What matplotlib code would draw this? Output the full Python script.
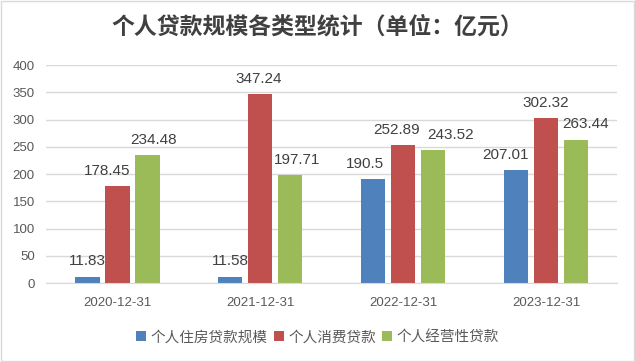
from matplotlib import pyplot as plt
import numpy as np

plt.rcParams['font.family'] = ['Noto Sans CJK SC', 'DejaVu Sans']

dates = ["2020-12-31", "2021-12-31", "2022-12-31", "2023-12-31"]
housing = [11.83, 11.58, 190.5, 207.01]
consumer = [178.45, 347.24, 252.89, 302.32]
business = [234.48, 197.71, 243.52, 263.44]
series_names = ["个人住房贷款规模", "个人消费贷款", "个人经营性贷款"]
colors = ["#4F81BD", "#C0504D", "#9BBB59"]

# horizontal nudges (pixels) that keep the data labels apart, as in the source
label_nudge = [[0, 0, -8, -11], [-10, -2, -7, 0], [6, 7, 17, 10]]

fig = plt.figure(figsize=(6.35, 3.62), dpi=100)
ax = fig.add_axes([0.0724, 0.218, 0.9, 0.602])

x = np.arange(len(dates))
offset = 0.21
width = 0.17
for i, (vals, name) in enumerate(zip([housing, consumer, business], series_names)):
    pos = x + (i - 1) * offset
    bars = ax.bar(pos, vals, width, color=colors[i], label=name, zorder=2)
    for j, (b, v) in enumerate(zip(bars, vals)):
        ax.annotate(f"{v:g}", (b.get_x() + b.get_width() / 2, v),
                    xytext=(label_nudge[i][j] * 0.72, 6), textcoords="offset points",
                    ha="center", va="bottom", fontsize=11, color="#404040",
                    family="Liberation Sans")

ax.set_xlim(-0.5, len(dates) - 0.5)
ax.set_ylim(0, 400)
ax.set_yticks(np.arange(0, 401, 50))
ax.set_xticks(x)
ax.set_xticklabels(dates)
ax.grid(axis="y", color="#d9d9d9", linewidth=1, zorder=0)
for side in ["top", "right", "left"]:
    ax.spines[side].set_visible(False)
ax.spines["bottom"].set_color("#d9d9d9")
ax.tick_params(length=0, labelsize=9.5, colors="#595959", pad=8)
ax.tick_params(axis="x", pad=10)
for lbl in ax.get_xticklabels() + ax.get_yticklabels():
    lbl.set_family("Liberation Sans")

fig.text(0.5, 0.925, "个人贷款规模各类型统计（单位：亿元）", ha="center", va="center",
         fontsize=16.5, fontweight="bold", color="#404040")

fig.legend(loc="center", bbox_to_anchor=(0.5, 0.068), ncol=3, frameon=False,
           fontsize=10.5, handlelength=0.7, handleheight=0.7, handletextpad=0.3,
           columnspacing=0.4, labelcolor="#595959")

border = plt.Rectangle((0.002, 0.003), 0.996, 0.994, transform=fig.transFigure,
                       fill=False, edgecolor="#d9d9d9", linewidth=1)
fig.add_artist(border)

fig.savefig("out.png", dpi=100)
